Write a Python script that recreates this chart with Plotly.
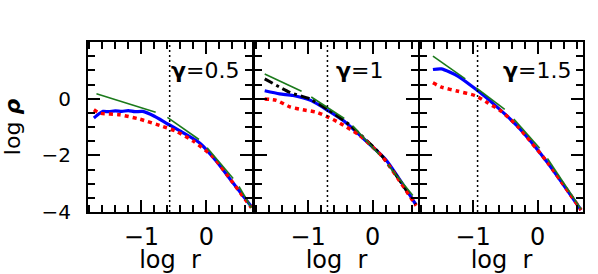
import plotly.graph_objects as go

# ---------------- data ----------------
gammas = ["0.5", "1", "1.5"]
r_cut = [-0.565, -0.70, -0.93]

# blue (solid)
blue_x1 = [-1.73, -1.66, -1.59, -1.5, -1.4, -1.3, -1.2, -1.1, -0.98, -0.8, -0.62, -0.4, -0.1, 0.15, 0.41, 0.69]
blue_y1 = [-0.68, -0.55, -0.45, -0.46, -0.43, -0.45, -0.42, -0.46, -0.45, -0.62, -0.86, -1.15, -1.57, -2.2, -2.98, -3.81]
blue_x2 = [-1.67, -1.44, -1.23, -0.95, -0.67, -0.44, -0.1, 0.2, 0.67]
blue_y2 = [0.28, 0.17, 0.11, -0.07, -0.45, -0.80, -1.5, -2.15, -3.75]
blue_x3 = [-1.62, -1.49, -1.23, -0.95, -0.67, -0.31, 0.15, 0.67]
blue_y3 = [1.03, 1.05, 0.79, 0.32, -0.21, -0.98, -2.25, -3.93]

# red (dotted)
red_x1 = [-1.73, -1.64, -1.33, -1.03, -0.67, -0.46, -0.2, 0.1, 0.4, 0.69]
red_y1 = [-0.39, -0.51, -0.57, -0.72, -0.98, -1.16, -1.5, -2.05, -2.95, -3.85]
red_x2 = [-1.67, -1.49, -1.28, -1.08, -0.87, -0.69, -0.51, -0.2, 0.15, 0.67]
red_y2 = [-0.01, -0.06, -0.29, -0.39, -0.48, -0.65, -0.86, -1.3, -2.05, -3.78]
red_x3 = [-1.62, -1.49, -1.23, -0.97, -0.77, -0.56, -0.31, 0.15, 0.67]
red_y3 = [0.56, 0.41, 0.26, 0.11, -0.15, -0.45, -0.98, -2.25, -3.93]

# black dash-dot (middle panel only)
black_x2 = [-1.67, -1.28, -0.97, -0.69, -0.36, 0.15, 0.67]
black_y2 = [0.70, 0.22, -0.01, -0.39, -0.92, -2.04, -3.75]

# green dashed fit segments (None separates segments)
green_x1 = [-1.69, -0.78, None, -0.6, -0.115, None, 0.01, 0.41, None, 0.5, 0.69]
green_y1 = [0.17, -0.48, None, -0.66, -1.44, None, -1.73, -2.82, None, -3.1, -3.85]
green_x2 = [-1.67, -1.10, None, -0.95, -0.44, None, -0.31, 0.10, None, 0.23, 0.62]
green_y2 = [0.87, 0.26, None, 0.06, -0.70, None, -0.96, -1.97, None, -2.32, -3.42]
green_x3 = [-1.62, -1.12, None, -0.95, -0.51, None, -0.37, 0.03, None, 0.15, 0.67]
green_y3 = [1.50, 0.70, None, 0.38, -0.38, None, -0.72, -1.75, None, -2.11, -3.9]

x_ticks = [-1, 0]
y_ticks = [-4, -2, 0]

# ---------------- figure ----------------
W, H = 598, 274
ml, mr, mt, mb = 88, 15, 42, 62
pw = W - ml - mr
doms = [(0, 164 / pw), ((255 - ml) / pw, (418 - ml) / pw), ((420 - ml) / pw, 1.0)]

fig = go.Figure()
blues = [(blue_x1, blue_y1), (blue_x2, blue_y2), (blue_x3, blue_y3)]
reds = [(red_x1, red_y1), (red_x2, red_y2), (red_x3, red_y3)]
greens = [(green_x1, green_y1), (green_x2, green_y2), (green_x3, green_y3)]

GREEN = "#1b7a1b"
for i in range(3):
    xa = "x" if i == 0 else f"x{i+1}"
    ya = "y" if i == 0 else f"y{i+1}"
    bx, by = blues[i]
    fig.add_trace(go.Scatter(x=bx, y=by, mode="lines", xaxis=xa, yaxis=ya,
                             line=dict(color="#0000ff", width=3.2, shape="spline", smoothing=0.6)))
    if i == 1:
        fig.add_trace(go.Scatter(x=black_x2, y=black_y2, mode="lines", xaxis=xa, yaxis=ya,
                                 line=dict(color="black", width=3, dash="9px,4px,3px,4px",
                                           shape="spline", smoothing=0.6)))
    rx, ry = reds[i]
    fig.add_trace(go.Scatter(x=rx, y=ry, mode="lines", xaxis=xa, yaxis=ya,
                             line=dict(color="#ff0000", width=3.5, dash="4px,4px",
                                       shape="spline", smoothing=0.6)))
    gx, gy = greens[i]
    fig.add_trace(go.Scatter(x=gx, y=gy, mode="lines", xaxis=xa, yaxis=ya,
                             line=dict(color=GREEN, width=1.6), connectgaps=False))

axis_common = dict(showgrid=False, zeroline=False, showline=True, linecolor="black",
                   linewidth=2, mirror="ticks", ticks="inside", tickcolor="black",
                   tickwidth=1.5, automargin=False)

layout = dict(width=W, height=H, margin=dict(l=ml, r=mr, t=mt, b=mb, autoexpand=False),
              plot_bgcolor="white", paper_bgcolor="white", showlegend=False,
              font=dict(family="DejaVu Sans", color="black"))

for i in range(3):
    sx = "" if i == 0 else str(i + 1)
    layout[f"xaxis{sx}"] = dict(axis_common, domain=list(doms[i]), range=[-1.82, 0.7],
                                anchor=f"y{sx}", tickvals=x_ticks, ticklen=12,
                                minor=dict(dtick=0.2, tick0=0, ticklen=7, ticks="inside",
                                           tickcolor="black", tickwidth=1.5, showgrid=False),
                                tickfont=dict(size=24), ticklabelstandoff=2,
                                title=dict(text="log\u00a0\u00a0r", font=dict(size=24), standoff=20))
    layout[f"yaxis{sx}"] = dict(axis_common, domain=[0, 1], range=[-4, 2],
                                anchor=f"x{sx}", tickvals=y_ticks, ticklen=12,
                                minor=dict(dtick=0.5, tick0=0, ticklen=7, ticks="inside",
                                           tickcolor="black", tickwidth=1.5, showgrid=False),
                                showticklabels=(i == 0), tickfont=dict(size=20),
                                ticklabelstandoff=11,
                                title=dict(text="log <b><i>ρ</i></b>" if i == 0 else "",
                                           font=dict(size=22), standoff=18))
fig.update_layout(**layout)

ann_x = [0.93, 0.8, 0.94]
for i in range(3):
    sx = "" if i == 0 else str(i + 1)
    fig.add_annotation(x=ann_x[i], y=0.83, xref=f"x{sx} domain", yref=f"y{sx} domain",
                       text=f"<b>γ</b>={gammas[i]}", showarrow=False, xanchor="right",
                       yanchor="middle", font=dict(size=22, family="DejaVu Sans"))
    fig.add_shape(type="line", x0=r_cut[i], x1=r_cut[i], y0=0, y1=1,
                  xref=f"x{sx}", yref=f"y{sx} domain",
                  line=dict(color="black", width=1.5, dash="2px,3px"))

fig.write_html("out.html", config={"displayModeBar": False},
               post_script="document.body.style.margin='0';")
